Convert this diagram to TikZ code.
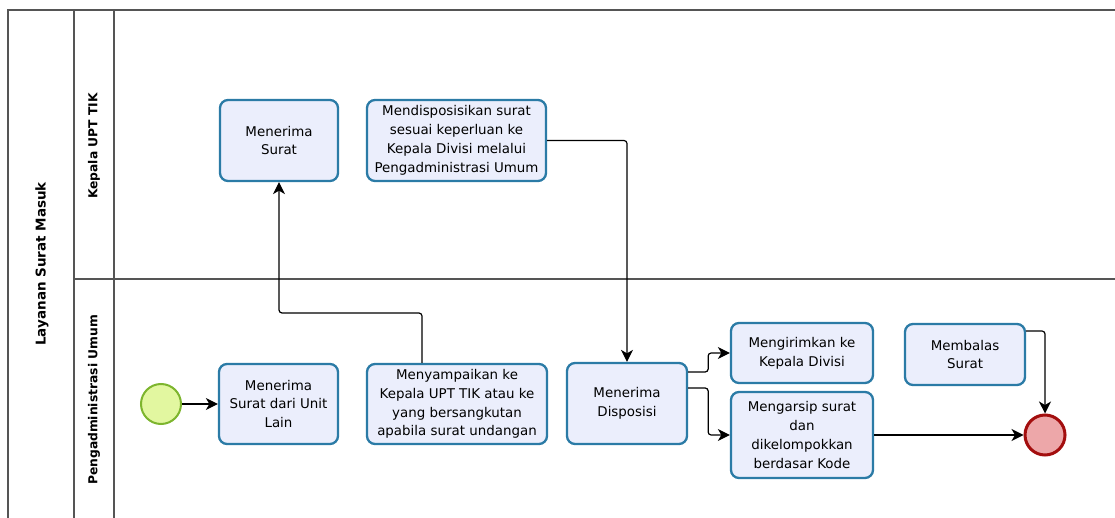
\documentclass[tikz,border=0pt]{standalone}
\usepackage{fontspec}
\setmainfont{DejaVu Sans}
\usetikzlibrary{arrows.meta}
\definecolor{taskfill}{HTML}{EBEEFC}
\definecolor{taskdraw}{HTML}{2B7BA6}
\definecolor{startfill}{HTML}{E2F7A0}
\definecolor{startdraw}{HTML}{7DB52E}
\definecolor{endfill}{HTML}{EDA7A9}
\definecolor{enddraw}{HTML}{A30E0E}
\definecolor{poolline}{HTML}{555555}
\tikzset{
  task/.style={draw=taskdraw, fill=taskfill, line width=2.3pt, rounded corners=8pt,
    align=center, inner sep=1pt, font=\fontsize{13.4}{18.8}\selectfont},
  startev/.style={circle, draw=startdraw, fill=startfill, line width=2pt, minimum size=40pt, inner sep=0pt},
  endev/.style={circle, draw=enddraw, fill=endfill, line width=3pt, minimum size=40pt, inner sep=0pt},
  flow/.style={draw=black, line width=1.2pt, rounded corners=3pt,
    -{Stealth[length=12pt,width=12pt,inset=3.5pt]}},
  poolln/.style={draw=poolline, line width=1.1pt},
  lanelabel/.style={rotate=90, font=\bfseries\fontsize{12.3}{14}\selectfont},
  poollabel/.style={rotate=90, font=\bfseries\fontsize{13.5}{16}\selectfont}
}
\begin{document}
\begin{tikzpicture}[x=1pt,y=-1pt]
\useasboundingbox (0,0) rectangle (1115,518);
% pool and lanes
\draw[poolln] (1115,10) -- (8,10) -- (8,518);
\draw[poolln] (74,10) -- (74,518);
\draw[poolln] (114,10) -- (114,518);
\draw[poolln] (74,279) -- (1115,279);
\node[poollabel] (pool) at (42,264) {Layanan Surat Masuk};
\node[lanelabel] (lane1) at (94,146) {Kepala UPT TIK};
\node[lanelabel] (lane2) at (94,400) {Pengadministrasi Umum};
% tasks
\node[task, minimum width=118pt, minimum height=81pt] (t1) at (279,140.5) {Menerima\\Surat};
\node[task, minimum width=179pt, minimum height=81pt] (t2) at (456.5,140.5) {Mendisposisikan surat\\sesuai keperluan ke\\Kepala Divisi melalui\\Pengadministrasi Umum};
\node[task, minimum width=119pt, minimum height=80pt] (t3) at (278.5,404) {Menerima\\Surat dari Unit\\Lain};
\node[task, minimum width=180pt, minimum height=80pt] (t4) at (457,404) {Menyampaikan ke\\Kepala UPT TIK atau ke\\yang bersangkutan\\apabila surat undangan};
\node[task, minimum width=120pt, minimum height=81pt] (t5) at (627,403.5) {Menerima\\Disposisi};
\node[task, minimum width=142pt, minimum height=60pt] (t6) at (802,353) {Mengirimkan ke\\Kepala Divisi};
\node[task, minimum width=142pt, minimum height=86pt] (t7) at (802,435) {Mengarsip surat\\dan\\dikelompokkan\\berdasar Kode};
\node[task, minimum width=120pt, minimum height=61pt] (t8) at (965,354.5) {Membalas\\Surat};
% events
\node[startev] (start) at (161,404) {};
\node[endev] (end) at (1045,435) {};
% flows
\coordinate (j1) at (279,313);
\draw[flow] (start) -- (t3);
\draw[flow] ([xshift=-35pt]t4.north) |- (j1) -- (t1.south);
\draw[flow] (t2.east) -| (t5.north);
\draw[flow] ([yshift=31.5pt]t5.east) -- ++(20,0) |- (t6.west);
\draw[flow] ([yshift=15.5pt]t5.east) -- ++(20,0) |- (t7.west);
\draw[flow] (t7.east) -- (end);
\draw[flow] ([yshift=23.5pt]t8.east) -| (end.north);
\end{tikzpicture}
\end{document}
